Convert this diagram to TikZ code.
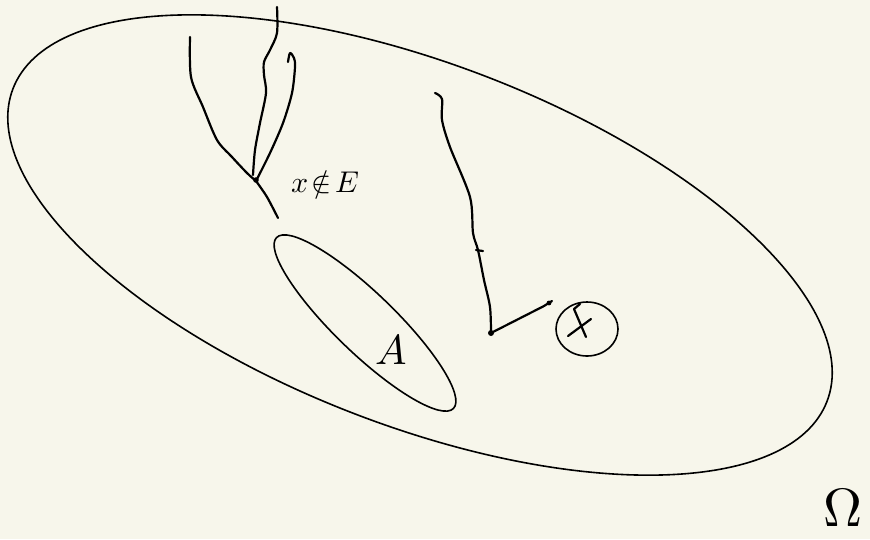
\documentclass[tikz,border=0pt]{standalone}
\usepackage{unicode-math}
\setmathfont{Latin Modern Math}
\definecolor{paper}{RGB}{247,246,235}
\begin{document}
\begin{tikzpicture}[x=1pt,y=-1pt,
  pen/.style={line width=2.2pt,line cap=round,line join=round,black},
  thin pen/.style={line width=1.6pt,black},
  lbl/.style={inner sep=0pt,black}]
\fill[paper] (0,0) rectangle (870,539);
\useasboundingbox (0,0) rectangle (870,539);
% big set Omega
\draw[thin pen] (420,245) ellipse [x radius=436pt, y radius=181pt, rotate=-21];
% set A
\draw[thin pen] (365,323) ellipse [x radius=123pt, y radius=30pt, rotate=-44];
% left strokes
\draw[pen] plot[smooth,tension=0.5] coordinates {(190,37) (191,77) (203,107) (217,140) (232,157) (247,173) (256,181)};
\draw[pen] plot[smooth,tension=0.5] coordinates {(277,7) (277,33) (270,50) (264,62) (264,75) (266,93) (260,123) (255,150) (253,175)};
\draw[pen] plot[smooth,tension=0.5] coordinates {(256,181) (270,153) (283,123) (292,93) (295,67) (294,58) (290,53) (288,62)};
\draw[pen] plot[smooth,tension=0.5] coordinates {(256,181) (267,197) (278,218)};
\fill (256,180) circle (2.8pt);
\node[lbl] (xe) at (325,185) {\scalebox{3}{$x\mathrel{\!∉\!}E$}};
% right path
\draw[pen] plot[smooth,tension=0.5] coordinates {(435,93) (442,99) (442,120) (450,147) (470,197) (473,233) (478,250) (484,280) (490,307) (491,333)};
\draw[pen] (476,250) -- (483,251);
\fill (491,333) circle (3pt);
\draw[pen] (491,333) -- (544,306) -- (552,301);
\fill (549,303) circle (2.4pt);
% circled x
\draw[thin pen] (587,329) ellipse [x radius=31pt, y radius=27pt];
\draw[pen] (580,304) -- (574,309) -- (586,337);
\draw[pen] (591,319) -- (568,336);
% label A
\node[lbl] (A) at (391,349) {\scalebox{4.2}{$A$}};
% Omega
\node[lbl] (Om) at (843,507) {\scalebox{5.4}{$\Omega$}};
\end{tikzpicture}
\end{document}
